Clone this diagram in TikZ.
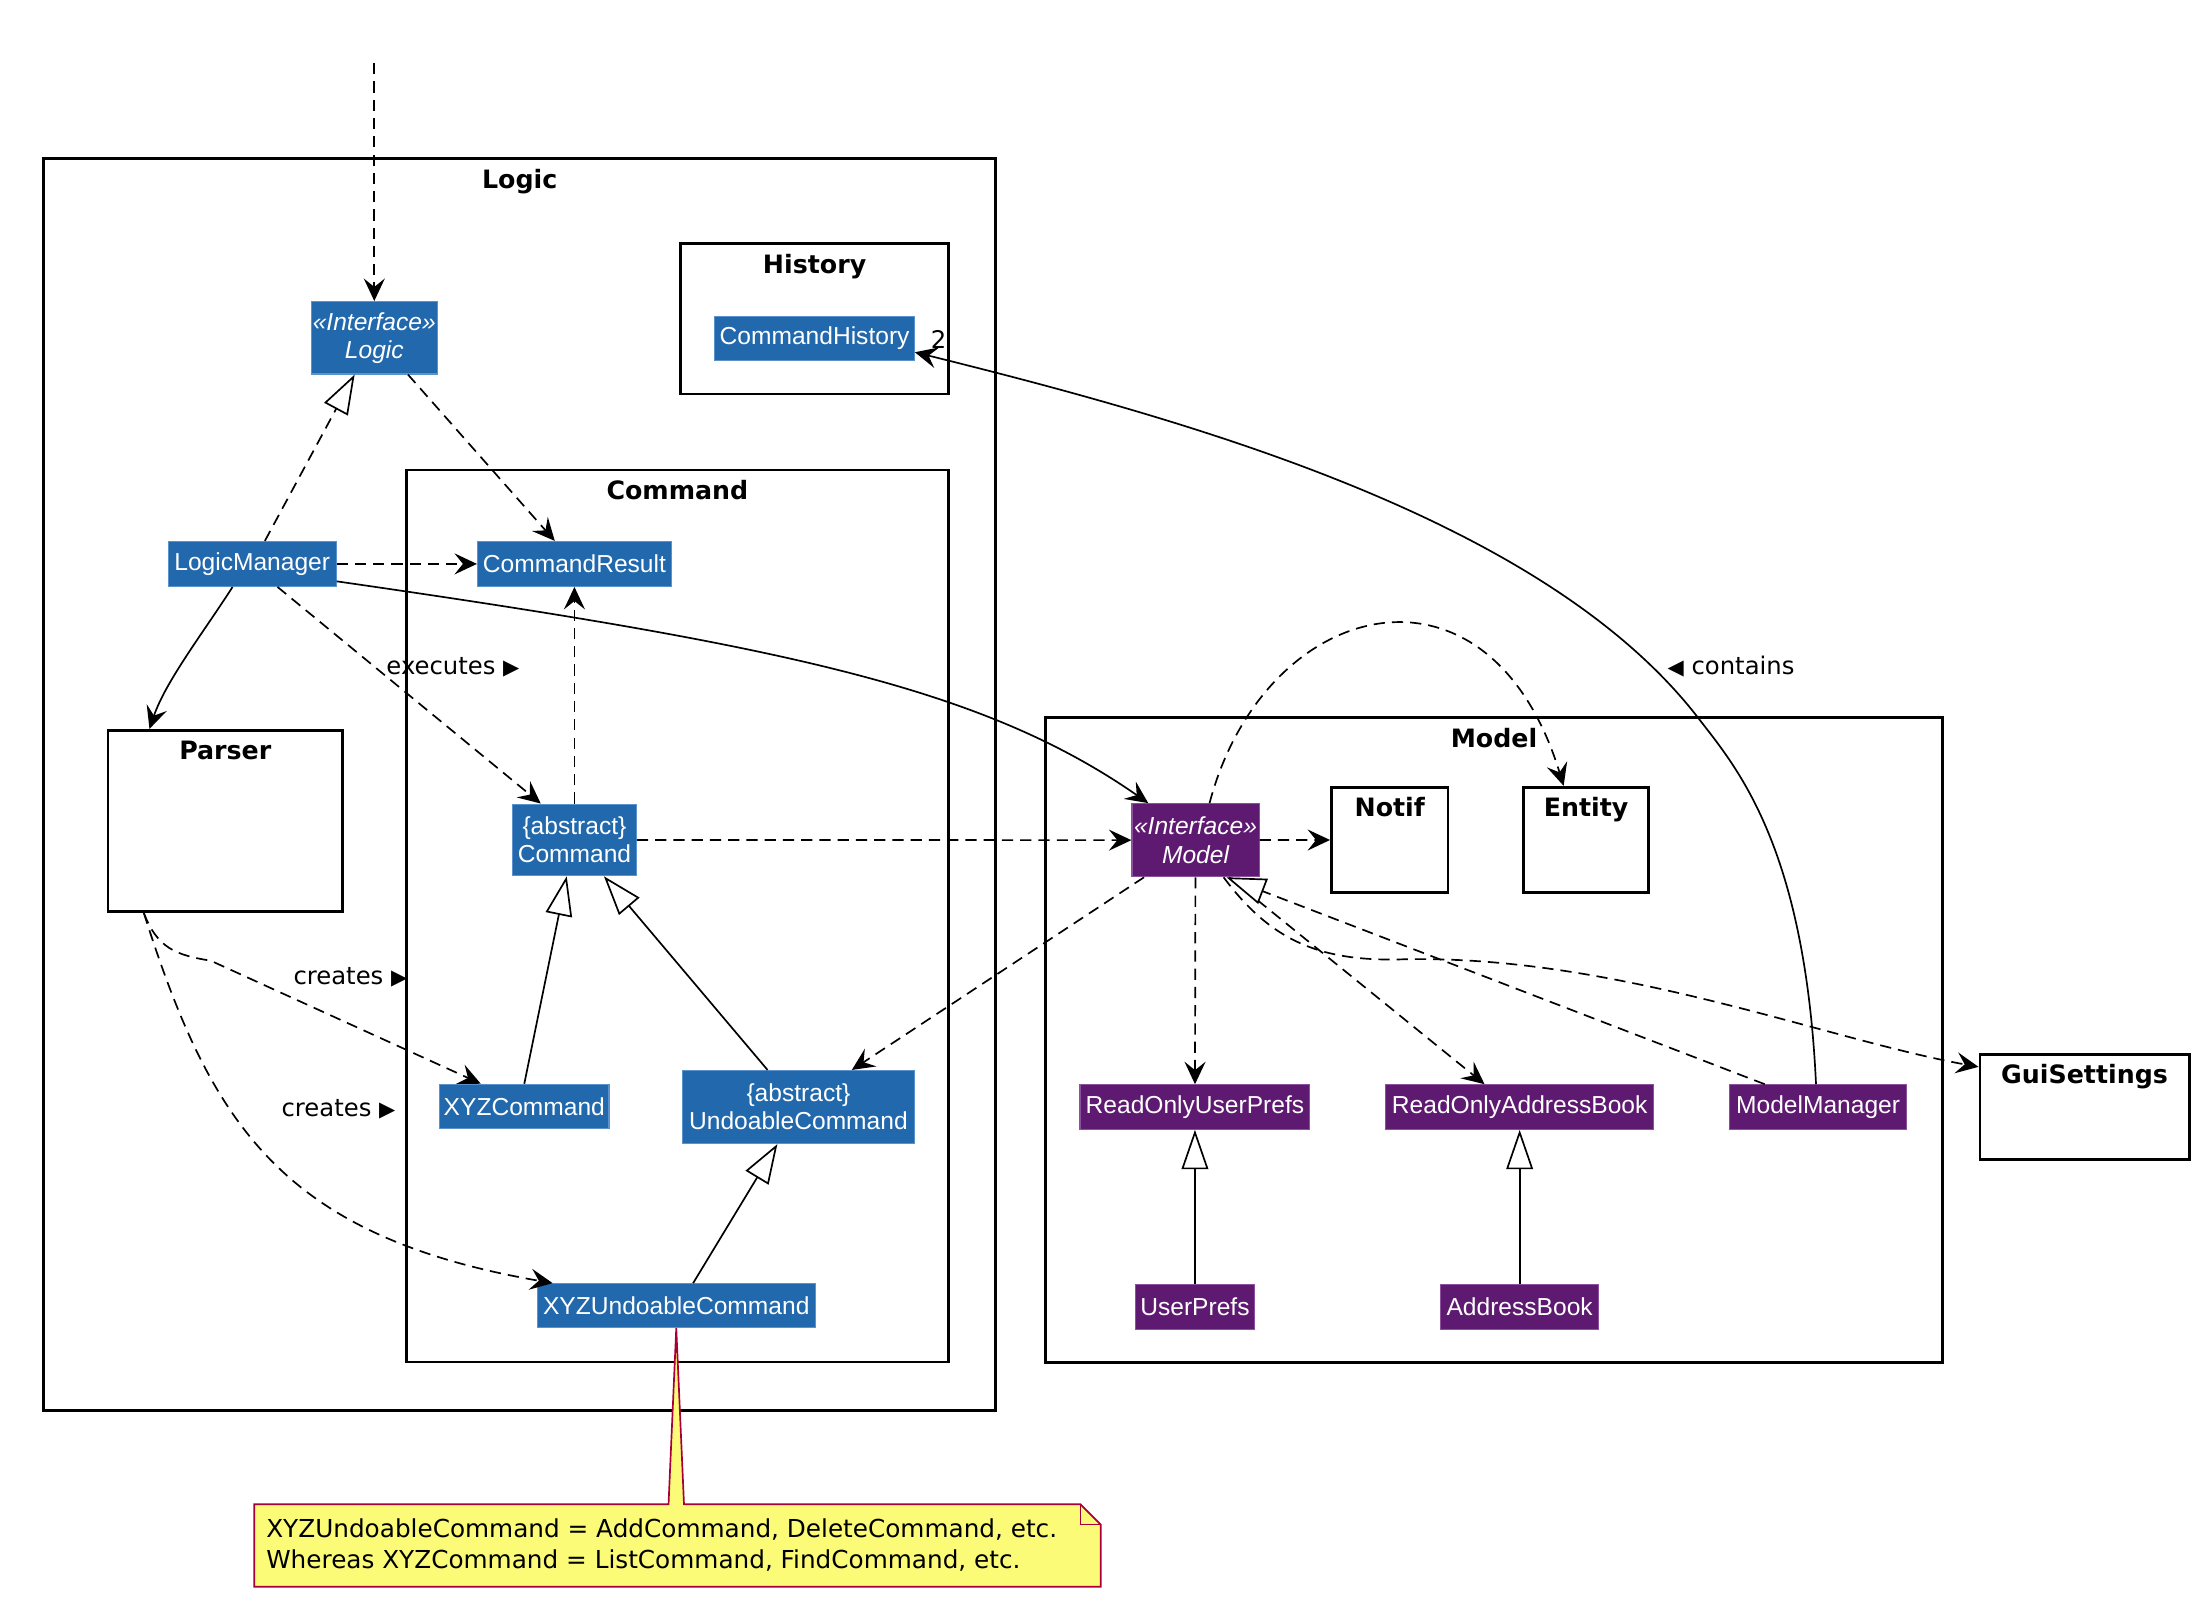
\documentclass[tikz,border=0pt]{standalone}
\usepackage[usenames,dvipsnames]{xcolor}
\usepackage{fontspec}
\setmainfont{DejaVu Sans}
\newfontfamily\clsfont{Liberation Sans}
\usepackage{tikz}
\usetikzlibrary{arrows.meta,positioning}

\definecolor{logicblue}{RGB}{33,104,172}
\definecolor{logicedge}{RGB}{92,146,204}
\definecolor{modelpurple}{RGB}{94,26,112}
\definecolor{modeledge}{RGB}{140,80,156}
\definecolor{notefill}{RGB}{251,251,119}
\definecolor{noteedge}{RGB}{168,0,54}

\newcommand{\dirR}{{\fontsize{15}{15}\selectfont ▶}}
\newcommand{\dirL}{{\fontsize{15}{15}\selectfont ◀}}

\begin{document}
\begin{tikzpicture}[x=1pt,y=-1pt,line width=1.2pt,
    >={Stealth[length=16pt,width=15pt,inset=6pt]}]
  \tikzstyle{cls}=[text=white, line width=0.8pt, inner sep=0pt, align=center,
    font=\clsfont\fontsize{17.5}{20}\selectfont]
  \tikzstyle{logiccls}=[cls, fill=logicblue, draw=logicedge]
  \tikzstyle{modelcls}=[cls, fill=modelpurple, draw=modeledge]
  \tikzstyle{pkg}=[draw, line width=2pt, inner sep=0pt]
  \tikzstyle{pkgtitle}=[font=\bfseries\fontsize{18}{20}\selectfont, inner sep=0pt,
    text height=13pt, text depth=4pt]
  \tikzstyle{lbl}=[font=\fontsize{17.3}{20}\selectfont, inner sep=0pt]
  \tikzstyle{dep}=[dashed, dash pattern=on 8pt off 5pt]
  \tikzstyle{inh}=[-{Triangle[length=28pt,width=19pt,fill=white]}]
  \useasboundingbox (0,0) rectangle (1560,1144);

  % packages
  \node[pkg, minimum width=678, minimum height=891] (logicpkg) at (370,558.5) {};
  \node[pkgtitle, below=8.5pt of logicpkg.north] (logictitle) {Logic};
  \node[pkg, minimum width=191, minimum height=107] (historypkg) at (580,227) {};
  \node[pkgtitle, below=8.5pt of historypkg.north] (historytitle) {History};
  \node[pkg, minimum width=386, minimum height=635] (commandpkg) at (482.3,652.2) {};
  \node[pkgtitle, below=8.5pt of commandpkg.north] (commandtitle) {Command};
  \node[pkg, minimum width=167, minimum height=129] (parserpkg) at (160.4,584.5) {};
  \node[pkgtitle, below=8.5pt of parserpkg.north] (parsertitle) {Parser};
  \node[pkg, minimum width=639, minimum height=459] (modelpkg) at (1063.7,740.4) {};
  \node[pkgtitle, below=8.5pt of modelpkg.north] (modeltitle) {Model};
  \node[pkg, minimum width=83, minimum height=75] (notifpkg) at (989.5,598) {};
  \node[pkgtitle, below=8.5pt of notifpkg.north] (notiftitle) {Notif};
  \node[pkg, minimum width=89.4, minimum height=75, right=51.6pt of notifpkg] (entitypkg) {};
  \node[pkgtitle, below=8.5pt of entitypkg.north] (entitytitle) {Entity};
  \node[pkg, minimum width=149, minimum height=75] (guipkg) at (1484.2,788.1) {};
  \node[pkgtitle, below=8.5pt of guipkg.north] (guititle) {GuiSettings};

  % logic classes
  \node[logiccls, minimum width=142, minimum height=31.5] (cmdhist) at (580,240.8) {CommandHistory};
  \node[logiccls, minimum width=89.4, minimum height=51.6] (logic) at (266.5,240.5) {\itshape «Interface»\\\itshape Logic};
  \node[logiccls, minimum width=119.4, minimum height=32] (logicmgr) at (179.6,401.5) {LogicManager};
  \node[logiccls, minimum width=138, minimum height=32] (cmdresult) at (409,401.5) {CommandResult};
  \node[logiccls, minimum width=88, minimum height=51] (command) at (409,598) {\{abstract\}\\Command};
  \node[logiccls, minimum width=120.6, minimum height=31.6] (xyzcmd) at (373.3,787.8) {XYZCommand};
  \node[logiccls, minimum width=165, minimum height=52] (undoable) at (568.5,788.2) {\{abstract\}\\UndoableCommand};
  \node[logiccls, minimum width=198, minimum height=31.2] (xyzundo) at (481.5,929.6) {XYZUndoableCommand};

  % model classes
  \node[modelcls, minimum width=90.5, minimum height=52] (model) at (851.2,598.2) {\itshape «Interface»\\\itshape Model};
  \node[modelcls, minimum width=163.7, minimum height=31.7] (rouserprefs) at (850.8,788.2) {ReadOnlyUserPrefs};
  \node[modelcls, minimum width=191, minimum height=31.7] (roaddr) at (1082,788.2) {ReadOnlyAddressBook};
  \node[modelcls, minimum width=126.2, minimum height=31.7] (modelmgr) at (1294.5,788.2) {ModelManager};
  \node[modelcls, minimum width=84.4, minimum height=31.6, below=110pt of rouserprefs] (userprefs) {UserPrefs};
  \node[modelcls, minimum width=112.6, minimum height=31.6, below=110pt of roaddr] (addrbook) {AddressBook};

  \coordinate (entry) at (266.5,45);

  % dependencies
  \path[->,dep]
    (entry) edge (logic.north)
    ([xshift=24]logic.south) edge ([xshift=-14]cmdresult.north)
    (logicmgr) edge (cmdresult)
    ([xshift=18]logicmgr.south) edge ([xshift=-24]command.north)
    (command) edge (cmdresult)
              edge (model)
    (model) edge (notifpkg)
            edge (rouserprefs)
    ([xshift=9]model.south west) edge ([xshift=38]undoable.north)
    ([xshift=24]model.south) edge ([xshift=-25]roaddr.north);
  \draw[->,dep] ([xshift=10]model.north) .. controls (900,425) and (1060,385) .. ([xshift=-16]entitypkg.north);
  \draw[->,dep] ([xshift=20]model.south) .. controls (905,670) and (940,685) .. (1000,683)
    .. controls (1150,680) and (1300,740) .. ([yshift=-10]guipkg.north west);
  \draw[->,dep] ([xshift=-58]parserpkg.south) .. controls (112,675) and (125,680) .. (150,684)
    -- ([xshift=-31]xyzcmd.north);
  \draw[->,dep] ([xshift=-58]parserpkg.south) .. controls (150,800) and (200,880) .. ([xshift=-88]xyzundo.north);

  % associations
  \draw[->] ([xshift=-14]logicmgr.south) .. controls (145,450) and (118,485) .. ([xshift=-54]parserpkg.north);
  \draw[->] ([yshift=4]logicmgr.south east) .. controls (560,460) and (700,490) .. ([xshift=12]model.north west);
  \draw[->] ([xshift=-1.5]modelmgr.north) .. controls (1285,600) and (1235,545) .. (1209,511)
    .. controls (1100,370) and (850,300) .. ([yshift=-10]cmdhist.east);

  % generalisation and realisation
  \path[inh]
    (xyzcmd.north) edge ([xshift=-5.5]command.south)
    ([xshift=-22]undoable.north) edge ([xshift=21]command.south)
    ([xshift=12]xyzundo.north) edge ([xshift=-15]undoable.south)
    (userprefs) edge (rouserprefs)
    (addrbook) edge (roaddr);
  \path[inh,dep]
    ([xshift=9]logicmgr.north) edge ([xshift=-14]logic.south)
    ([xshift=-38]modelmgr.north) edge ([xshift=22]model.south);

  % labels
  \node[lbl] (execlbl) at (322.5,475) {executes \dirR};
  \node[lbl] (createslbl) at (249.5,696) {creates \dirR};
  \node[lbl] (createslblb) at (241,790) {creates \dirR};
  \node[lbl] (containslbl) at (1232.5,474.4) {\dirL\ contains};
  \node[lbl] (multlbl) at (668.3,241.6) {2};

  % note
  \node[minimum width=601.5, minimum height=57.5, inner sep=0pt, anchor=north west] (note) at (181,1071) {};
  \draw[fill=notefill, draw=noteedge, line width=1.2pt]
    (note.north west) -- ([xshift=-5.5]xyzundo.south |- note.north) -- (xyzundo.south)
    -- ([xshift=5.5]xyzundo.south |- note.north) -- ([xshift=-14.5]note.north east)
    -- ([yshift=-14.5]note.north east) -- (note.south east) -- (note.south west) -- cycle;
  \draw[draw=noteedge, line width=1.2pt] ([xshift=-14.5]note.north east)
    -- ([xshift=-14.5,yshift=-14.5]note.north east) -- ([yshift=-14.5]note.north east);
  \node[lbl, align=left, anchor=west, font=\fontsize{17.6}{22}\selectfont] (notetext) at ([xshift=8]note.west)
    {XYZUndoableCommand = AddCommand, DeleteCommand, etc.\\Whereas XYZCommand = ListCommand, FindCommand, etc.};
\end{tikzpicture}
\end{document}
